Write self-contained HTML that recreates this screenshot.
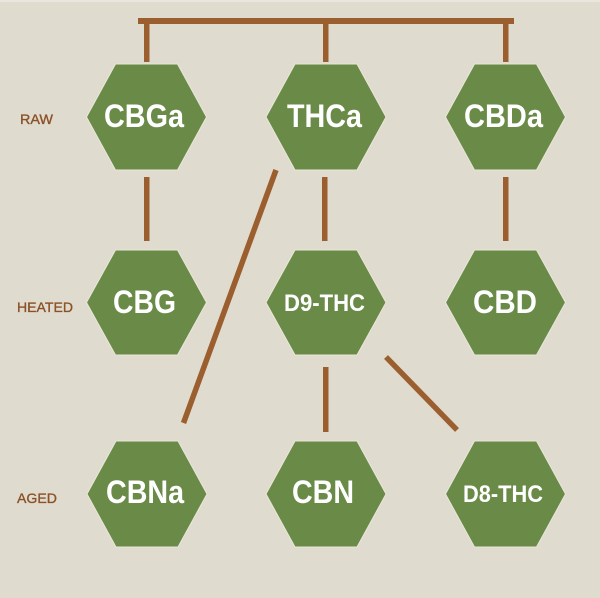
<!DOCTYPE html>
<html>
<head>
<meta charset="utf-8">
<style>
  html, body { margin: 0; padding: 0; background: #e0dbcf; }
  svg { display: block; }
  .hex { fill: #6a8a47; stroke: #e9e6da; stroke-width: 1; }
  .big { font-family: "Liberation Sans", sans-serif; font-weight: bold; font-size: 32px; fill: #ffffff; text-anchor: middle; }
  .mid { font-family: "Liberation Sans", sans-serif; font-weight: bold; font-size: 24px; fill: #ffffff; text-anchor: middle; }
  .lbl { font-family: "Liberation Sans", sans-serif; font-size: 14px; fill: #8b5228; stroke: #8b5228; stroke-width: 0.35; }
  .ln { stroke: #9b5e2f; stroke-width: 5.5; stroke-linecap: butt; fill: none; }
</style>
</head>
<body>
<svg width="600" height="598" viewBox="0 0 600 598" xmlns="http://www.w3.org/2000/svg">
  <rect x="0" y="0" width="600" height="598" fill="#e0dbcf"/>
  <rect x="0" y="0" width="600" height="2" fill="#e9e6de"/>

  <!-- top bracket -->
  <rect x="138" y="18" width="376" height="6" fill="#9b5e2f"/>
  <rect x="144" y="24" width="5.5" height="38" fill="#9b5e2f"/>
  <rect x="323" y="24" width="5.5" height="38" fill="#9b5e2f"/>
  <rect x="503" y="24" width="5.5" height="38" fill="#9b5e2f"/>

  <!-- row1 to row2 verticals -->
  <rect x="144" y="177" width="5.5" height="64" fill="#9b5e2f"/>
  <rect x="322" y="177" width="5.5" height="64" fill="#9b5e2f"/>
  <rect x="503" y="177" width="5.5" height="64" fill="#9b5e2f"/>

  <!-- D9 to CBN -->
  <rect x="323" y="367" width="5.5" height="65" fill="#9b5e2f"/>

  <!-- diagonals -->
  <line class="ln" x1="276" y1="170" x2="183.5" y2="423"/>
  <line class="ln" x1="386" y1="357" x2="457" y2="430"/>

  <!-- Row 1 -->
  <polygon class="hex" points="86.5,117 115.5,64 177.5,64 206.5,117 177.5,170 115.5,170"/>
  <polygon class="hex" points="266,117 295,64 357,64 386,117 357,170 295,170"/>
  <polygon class="hex" points="445.5,117 474.5,64 536.5,64 565.5,117 536.5,170 474.5,170"/>
  <text class="big" x="144" y="127" textLength="80" lengthAdjust="spacingAndGlyphs">CBGa</text>
  <text class="big" x="324.5" y="127" textLength="75" lengthAdjust="spacingAndGlyphs">THCa</text>
  <text class="big" x="503.5" y="127" textLength="79" lengthAdjust="spacingAndGlyphs">CBDa</text>

  <!-- Row 2 -->
  <polygon class="hex" points="86.5,302.5 115.5,250 177.5,250 206.5,302.5 177.5,355 115.5,355"/>
  <polygon class="hex" points="266,302.5 295,250 357,250 386,302.5 357,355 295,355"/>
  <polygon class="hex" points="445.5,302.5 474.5,250 536.5,250 565.5,302.5 536.5,355 474.5,355"/>
  <text class="big" x="144.5" y="313" textLength="63" lengthAdjust="spacingAndGlyphs">CBG</text>
  <text class="mid" x="324.5" y="311" textLength="81" lengthAdjust="spacingAndGlyphs">D9-THC</text>
  <text class="big" x="505" y="313" textLength="64" lengthAdjust="spacingAndGlyphs">CBD</text>

  <!-- Row 3 -->
  <polygon class="hex" points="87,494 116,441 178,441 207,494 178,547 116,547"/>
  <polygon class="hex" points="266,494 295,441 357,441 386,494 357,547 295,547"/>
  <polygon class="hex" points="445.5,494 474.5,441 536.5,441 565.5,494 536.5,547 474.5,547"/>
  <text class="big" x="145" y="503" textLength="78" lengthAdjust="spacingAndGlyphs">CBNa</text>
  <text class="big" x="323" y="503" textLength="62" lengthAdjust="spacingAndGlyphs">CBN</text>
  <text class="mid" x="503" y="502" textLength="80" lengthAdjust="spacingAndGlyphs">D8-THC</text>

  <!-- side labels -->
  <text class="lbl" x="20" y="124" textLength="33" lengthAdjust="spacingAndGlyphs">RAW</text>
  <text class="lbl" x="17" y="312" textLength="56" lengthAdjust="spacingAndGlyphs">HEATED</text>
  <text class="lbl" x="17" y="503" textLength="40" lengthAdjust="spacingAndGlyphs">AGED</text>
</svg>
</body>
</html>
